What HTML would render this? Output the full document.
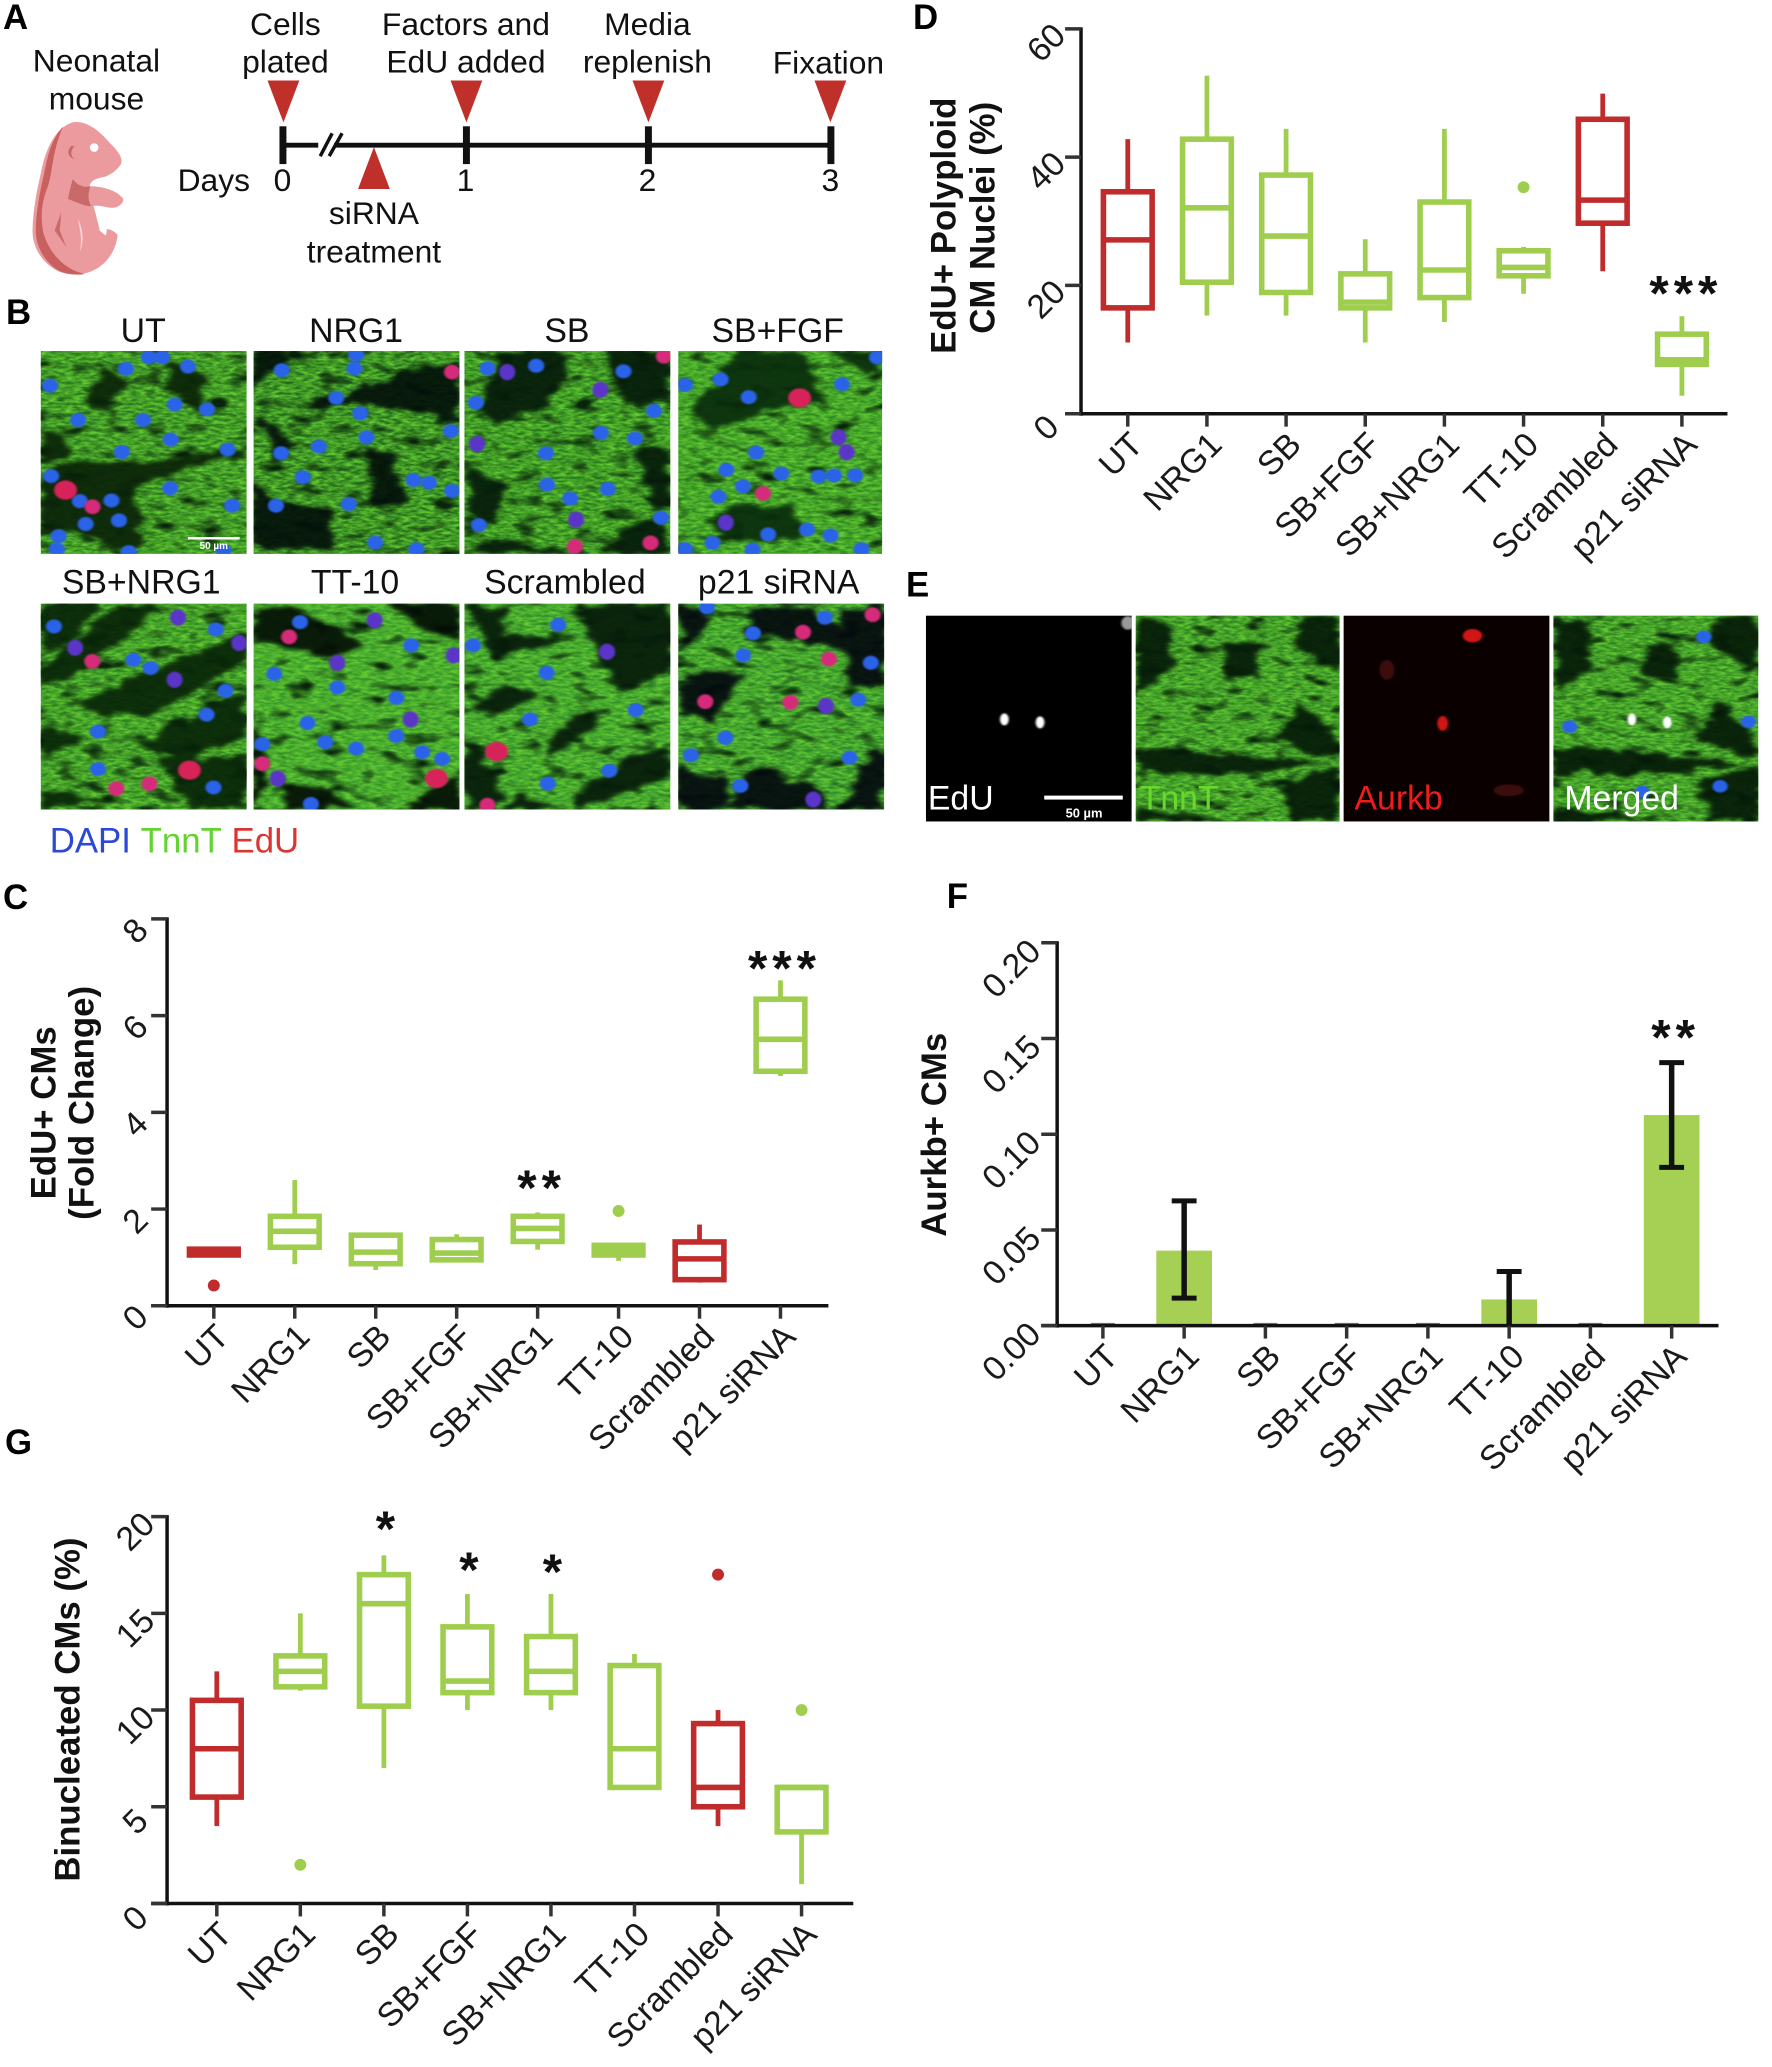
<!DOCTYPE html>
<html lang="en">
<head>
<meta charset="utf-8">
<title>EdU and Aurkb cardiomyocyte proliferation figure</title>
<style>
html,body{margin:0;padding:0;background:#fff;}
#figure{display:block;width:1772px;height:2067px;font-family:"Liberation Sans",Arial,sans-serif;}
.tl{font-size:32px;fill:#111;text-anchor:middle;}
.hd{font-size:34px;fill:#111;text-anchor:middle;}
.letter{font-size:35px;font-weight:bold;fill:#000;}
.title{font-size:35px;font-weight:bold;fill:#111;text-anchor:middle;}
</style>
</head>
<body>
<svg id="figure" xmlns="http://www.w3.org/2000/svg" width="1772" height="2067" viewBox="0 0 1772 2067">
<defs>
<filter id="fiber" x="0" y="0" width="100%" height="100%" color-interpolation-filters="sRGB">
<feTurbulence type="fractalNoise" baseFrequency="0.07 0.14" numOctaves="3" seed="7"/>
<feColorMatrix type="matrix" values="0 0 0 0 0.40  0 0 0 0 0.80  0 0 0 0 0.20  1.9 0 0 0 -0.5"/>
</filter>
<filter id="patch" x="0" y="0" width="100%" height="100%" color-interpolation-filters="sRGB">
<feTurbulence type="fractalNoise" baseFrequency="0.02 0.03" numOctaves="2" seed="23"/>
<feColorMatrix type="matrix" values="0 0 0 0 0.03  0 0 0 0 0.14  0 0 0 0 0.04  3.5 0 0 0 -1.9"/>
</filter>
<filter id="soft" x="-10%" y="-10%" width="120%" height="120%" color-interpolation-filters="sRGB">
<feTurbulence type="fractalNoise" baseFrequency="0.025" numOctaves="3" seed="5" result="n"/>
<feDisplacementMap in="SourceGraphic" in2="n" scale="45" xChannelSelector="R" yChannelSelector="G"/>
<feGaussianBlur stdDeviation="5"/>
</filter>
<filter id="soft2" x="-40%" y="-40%" width="180%" height="180%"><feGaussianBlur stdDeviation="2"/></filter>
</defs>
<rect width="1772" height="2067" fill="#fff"/>
<g transform="scale(0.9945)">

<text class="letter" x="3" y="29">A</text>
<text class="letter" x="6" y="326">B</text>
<text class="letter" x="3" y="914">C</text>
<text class="letter" x="918" y="29">D</text>
<text class="letter" x="911" y="600">E</text>
<text class="letter" x="952" y="913">F</text>
<text class="letter" x="5" y="1462">G</text>

<g>
<text class="tl" x="97" y="72">Neonatal</text>
<text class="tl" x="97" y="110">mouse</text>
<svg x="0" y="100" width="150" height="190" viewBox="0 0 450 570">
<path d="M225 68C265 66 300 95 330 130C355 155 372 175 365 195C352 215 335 225 320 232C295 238 275 240 270 262C300 262 350 270 372 300C372 318 350 332 325 325C305 322 290 318 282 322C290 345 295 375 302 395C320 385 345 395 355 410C350 445 335 480 300 505C265 530 215 535 175 518C130 495 98 450 98 395C100 330 110 280 125 215C135 160 165 80 225 68Z" fill="#eb9a9e"/>
<path d="M190 82C160 115 145 160 135 215C120 280 108 340 108 395C108 450 140 495 180 518C210 530 240 530 255 526C200 515 150 470 130 400C122 350 125 310 145 260C160 215 155 165 190 82Z" fill="#c8605f"/>
<path d="M220 240C235 262 255 266 272 262C268 280 262 300 275 322C255 322 230 310 205 300C210 275 215 255 220 240Z" fill="#c96a6a"/>
<ellipse cx="284" cy="145" rx="13" ry="13" fill="#fff"/>
<path d="M215 140C200 155 205 175 225 180C212 170 212 155 225 140Z" fill="#c96a6a"/>
<path d="M185 340L165 395L200 445L180 395Z" fill="#c96a6a"/>
<path d="M235 360C250 390 255 430 240 460C250 420 240 390 235 360Z" fill="#fff" opacity=".6"/>
<path d="M300 360C325 380 325 400 318 410L300 395Z" fill="#fff"/>
</svg>
<line x1="284" y1="146" x2="835" y2="146" stroke="#111" stroke-width="5"/>
<rect x="320" y="138" width="16" height="16" fill="#fff"/>
<line x1="322" y1="157" x2="334" y2="134" stroke="#111" stroke-width="3.5"/>
<line x1="331" y1="157" x2="344" y2="134" stroke="#111" stroke-width="3.5"/>
<rect x="281" y="127" width="7" height="38" fill="#111"/>
<rect x="465.500" y="127" width="7" height="38" fill="#111"/>
<rect x="648.500" y="127" width="7" height="38" fill="#111"/>
<rect x="832" y="127" width="7" height="38" fill="#111"/>
<polygon points="269,81 301,81 285,123" fill="#c0302b"/>
<polygon points="453,81 485,81 469,123" fill="#c0302b"/>
<polygon points="636,81 668,81 652,123" fill="#c0302b"/>
<polygon points="819,81 851,81 835,123" fill="#c0302b"/>
<polygon points="360,190 392,190 376,148" fill="#c0302b"/>
<text class="tl" x="287" y="35">Cells</text>
<text class="tl" x="287" y="73">plated</text>
<text class="tl" x="468.500" y="35">Factors and</text>
<text class="tl" x="468.500" y="73">EdU added</text>
<text class="tl" x="651" y="35">Media</text>
<text class="tl" x="651" y="73">replenish</text>
<text class="tl" x="833" y="74">Fixation</text>
<text class="tl" x="215" y="192">Days</text>
<text class="tl" x="284" y="192">0</text>
<text class="tl" x="468" y="192">1</text>
<text class="tl" x="651" y="192">2</text>
<text class="tl" x="835" y="192">3</text>
<text class="tl" x="376" y="225">siRNA</text>
<text class="tl" x="376" y="264">treatment</text>
</g>

<g>
<text class="hd" x="144" y="344">UT</text>
<text class="hd" x="358" y="344">NRG1</text>
<text class="hd" x="570" y="344">SB</text>
<text class="hd" x="782" y="344">SB+FGF</text>
<text class="hd" x="142" y="597">SB+NRG1</text>
<text class="hd" x="357" y="597">TT-10</text>
<text class="hd" x="568" y="597">Scrambled</text>
<text class="hd" x="783" y="597">p21 siRNA</text>
</g>
<g id="micrographs"></g>
<g>
<rect x="189" y="540" width="52" height="2.500" fill="#fff"/>
<text x="215" y="552" font-size="10" font-weight="bold" fill="#fff" text-anchor="middle">50 µm</text>
<text x="50" y="857" font-size="35"><tspan fill="#2b49d6">DAPI</tspan> <tspan fill="#63d32f">TnnT</tspan> <tspan fill="#dc3531">EdU</tspan></text>
</g>
<g>
<text x="933" y="814" font-size="34" fill="#fff">EdU</text>
<text x="1146" y="814" font-size="34" fill="#68d92c">TnnT</text>
<text x="1362" y="814" font-size="34" fill="#ee1c1c">Aurkb</text>
<text x="1573" y="814" font-size="34" fill="#fff">Merged</text>
<rect x="1050" y="800" width="79" height="4" fill="#fff"/>
<text x="1090" y="822" font-size="13" font-weight="bold" fill="#fff" text-anchor="middle">50 µm</text>
</g>

<g id="chartC">
<text class="title" transform="translate(56,1119) rotate(-90)">EdU+ CMs</text>
<text class="title" transform="translate(94,1109) rotate(-90)">(Fold Change)</text>
</g>
<g id="chartD">
<text class="title" transform="translate(961,227) rotate(-90)">EdU+ Polyploid</text>
<text class="title" transform="translate(1000,219) rotate(-90)">CM Nuclei (%)</text>
</g>
<g id="chartF">
<text class="title" transform="translate(951,1141) rotate(-90)">Aurkb+ CMs</text>
</g>
<g id="chartG">
<text class="title" transform="translate(80,1719) rotate(-90)">Binucleated CMs (%)</text>
</g>
</g>
</svg>

<script>
/* ---------- chart data ---------- */
const categories = ['UT','NRG1','SB','SB+FGF','SB+NRG1','TT-10','Scrambled','p21 siRNA'];
const controlGroups = ['UT','Scrambled'];

const cTicks = [0,2,4,6,8];
const cWhiskerHigh = [1.17,2.6,1.46,1.48,1.93,1.25,1.68,6.73];
const cQ3 = [1.17,1.85,1.46,1.37,1.85,1.25,1.32,6.34];
const cMedian = [1.1,1.54,1.11,1.09,1.6,1.15,0.97,5.51];
const cQ1 = [1.05,1.21,0.87,0.95,1.33,1.05,0.54,4.85];
const cWhiskerLow = [1.05,0.86,0.74,0.95,1.16,0.93,0.48,4.75];
const cOutliers = [0.42,null,null,null,null,1.96,null,null];
const cStars = ['','','','','**','','','***'];
const cStarLevels = [0,0,0,0,2.54,0,0,7.08];

const dTicks = [0,20,40,60];
const dWhiskerHigh = [42.8,52.7,44.4,27.2,44.4,26,49.9,15.2];
const dQ3 = [34.6,42.8,37.2,21.8,33,25.4,45.9,12.4];
const dMedian = [27.1,32.1,27.7,17.4,22.4,22.8,33.3,8.4];
const dQ1 = [16.5,20.5,18.9,16.5,18.1,21.5,29.7,7.7];
const dWhiskerLow = [11.1,15.3,15.3,11.1,14.3,18.7,22.2,2.8];
const dOutliers = [null,null,null,null,null,35.3,null,null];
const dStars = ['','','','','','','','***'];
const dStarLevels = [0,0,0,0,0,0,0,19.5];

const fTicks = [0,0.05,0.10,0.15,0.20];
const fTickLabels = ['0.00','0.05','0.10','0.15','0.20'];
const fMeans = [0,0.0392,0,0,0,0.0137,0,0.11];
const fErrHigh = [0,0.0652,0,0,0,0.0283,0,0.1374];
const fErrLow = [0,0.0144,0,0,0,0,0,0.0827];
const fStars = ['','','','','','','','**'];
const fStarLevels = [0,0,0,0,0,0,0,0.153];

const gTicks = [0,5,10,15,20];
const gWhiskerHigh = [12,15,18,16,16,12.9,10,6];
const gQ3 = [10.5,12.8,17,14.3,13.8,12.3,9.3,6];
const gMedian = [8,12,15.5,11.5,12,8,6,6];
const gQ1 = [5.5,11.2,10.2,10.9,10.9,6,5,3.7];
const gWhiskerLow = [4,11,7,10,10,6,4,1];
const gOutliers = [null,2,null,null,null,null,17,10];
const gStars = ['','','*','*','*','','',''];
const gStarLevels = [0,0,19.6,17.5,17.4,0,0,0];

/* ---------- helpers ---------- */
const SVGNS = 'http://www.w3.org/2000/svg';
const RED = '#c02b2b', GREEN = '#9fce4e', INK = '#111';
function make(tag, attrs, parent){
  const n = document.createElementNS(SVGNS, tag);
  for (const k in attrs) n.setAttribute(k, attrs[k]);
  parent.appendChild(n);
  return n;
}
function seriesColor(i){ return controlGroups.includes(categories[i]) ? RED : GREEN; }

function drawAxes(root, g, tickValues, tickLabels){
  const yAxis = make('line',{x1:g.x0,x2:g.x0,y1:g.yTop-1.5,y2:g.y0+2,stroke:INK,'stroke-width':3.5},root);
  
  
  const xAxis = make('line',{x1:g.x0-16,x2:g.xEnd,y1:g.y0,y2:g.y0,stroke:INK,'stroke-width':3.5},root);
  
  
  tickValues.forEach(function(v,i){
    const y = g.y(v);
    const tick = make('line',{x1:g.x0-16,x2:g.x0,y1:y,y2:y,stroke:'#333','stroke-width':3.5},root);
    
    
    const lx = g.x0 - g.ylx, ly = y + g.yly;
    const label = make('text',{transform:'translate('+lx+','+ly+') rotate(-45)','text-anchor':'middle','font-size':g.fs,fill:'#1a1a1a'},root);
    label.textContent = tickLabels ? tickLabels[i] : String(v);
    
    
  });
  categories.forEach(function(c,i){
    const x = g.x(i);
    const tick = make('line',{x1:x,x2:x,y1:g.y0,y2:g.y0+13,stroke:'#333','stroke-width':3.5},root);
    
    
    const label = make('text',{transform:'translate('+(x+17)+','+(g.y0+33)+') rotate(-45)','text-anchor':'end','font-size':g.fs,fill:'#1a1a1a'},root);
    label.textContent = c;
    
    
  });
}
function drawStars(root, g, stars, levels){
  stars.forEach(function(s,i){
    if (!s) return;
    const t = make('text',{x:g.x(i)+4,y:g.y(levels[i])+22,'text-anchor':'middle','font-size':50,'font-weight':'bold','letter-spacing':5,fill:'#111'},root);
    t.textContent = s;
    
    
  });
}
function drawBoxes(root, g, hi, q3, med, q1, lo, out){
  const hw = 24.5;
  categories.forEach(function(c,i){
    const col = seriesColor(i), x = g.x(i);
    if (hi[i] > q3[i]) {
      const wu = make('line',{x1:x,x2:x,y1:g.y(hi[i]),y2:g.y(q3[i]),stroke:col,'stroke-width':4.8},root);
      
      
    }
    if (lo[i] < q1[i]) {
      const wl = make('line',{x1:x,x2:x,y1:g.y(q1[i]),y2:g.y(lo[i]),stroke:col,'stroke-width':4.8},root);
      
      
    }
    const box = make('rect',{x:x-hw,y:g.y(q3[i]),width:hw*2,height:g.y(q1[i])-g.y(q3[i]),fill:'none',stroke:col,'stroke-width':5.6},root);
    
    
    const m = make('line',{x1:x-hw,x2:x+hw,y1:g.y(med[i]),y2:g.y(med[i]),stroke:col,'stroke-width':5.6},root);
    
    
    if (out[i] !== null) {
      const o = make('circle',{cx:x,cy:g.y(out[i]),r:6,fill:col},root);
      
      
    }
  });
}
function axisFns(g){
  g.x = function(i){ return g.xFirst + i*g.step; };
  g.y = function(v){ return g.y0 - (v/g.max)*(g.y0-g.yTop); };
  return g;
}

/* ---------- box charts ---------- */
const geoC = axisFns({x0:168,xEnd:833,y0:1313,yTop:924,max:8,xFirst:215,step:81.4,ylx:24,yly:20,fs:34});
const rootC = document.getElementById('chartC');
drawAxes(rootC, geoC, cTicks);
drawBoxes(rootC, geoC, cWhiskerHigh, cQ3, cMedian, cQ1, cWhiskerLow, cOutliers);
drawStars(rootC, geoC, cStars, cStarLevels);

const geoD = axisFns({x0:1087,xEnd:1737,y0:416,yTop:29,max:60,xFirst:1134,step:79.6,ylx:27,yly:22,fs:34});
const rootD = document.getElementById('chartD');
drawAxes(rootD, geoD, dTicks);
drawBoxes(rootD, geoD, dWhiskerHigh, dQ3, dMedian, dQ1, dWhiskerLow, dOutliers);
drawStars(rootD, geoD, dStars, dStarLevels);

const geoG = axisFns({x0:168,xEnd:858,y0:1914,yTop:1525,max:20,xFirst:218,step:84,ylx:24,yly:23,fs:34});
const rootG = document.getElementById('chartG');
drawAxes(rootG, geoG, gTicks);
drawBoxes(rootG, geoG, gWhiskerHigh, gQ3, gMedian, gQ1, gWhiskerLow, gOutliers);
drawStars(rootG, geoG, gStars, gStarLevels);

/* ---------- bar chart ---------- */
const geoF = axisFns({x0:1063,xEnd:1728,y0:1333,yTop:948,max:0.20,xFirst:1109,step:81.7,ylx:38,yly:34,fs:34});
const rootF = document.getElementById('chartF');
categories.forEach(function(c,i){
  const x = geoF.x(i);
  if (fMeans[i] > 0) {
    const b = make('rect',{x:x-28,y:geoF.y(fMeans[i]),width:56,height:geoF.y0-geoF.y(fMeans[i]),fill:'#a5d054'},rootF);
    
    
  } else {
    const z = make('line',{x1:x-12,x2:x+12,y1:geoF.y0-2,y2:geoF.y0-2,stroke:'#777','stroke-width':1.5},rootF);
    
    
  }
});
drawAxes(rootF, geoF, fTicks, fTickLabels);
categories.forEach(function(c,i){
  if (fMeans[i] <= 0) return;
  const x = geoF.x(i);
  const v = make('line',{x1:x,x2:x,y1:geoF.y(fErrHigh[i]),y2:geoF.y(fErrLow[i]),stroke:INK,'stroke-width':5.5},rootF);
  
  
  const capU = make('line',{x1:x-12.5,x2:x+12.5,y1:geoF.y(fErrHigh[i]),y2:geoF.y(fErrHigh[i]),stroke:INK,'stroke-width':5},rootF);
  
  
  if (fErrLow[i] > 0) {
    const capL = make('line',{x1:x-12.5,x2:x+12.5,y1:geoF.y(fErrLow[i]),y2:geoF.y(fErrLow[i]),stroke:INK,'stroke-width':5},rootF);
    
    
  }
});
drawStars(rootF, geoF, fStars, fStarLevels);

/* ---------- micrograph approximations ---------- */
const micro = document.getElementById('micrographs');
const BLUE='#2c62e8', LIGHTBLUE='#3f86ee', PURPLE='#5a35c8', PINK='#d62a7a', RED2='#d8245a';
const panels = [
 {r:[41,353,207,204],v:[72,138,358,550],base:'#2a7a1e',dark:'#0a2208',
  polys:['128,437 272,437 428,397 428,424 313,460 232,504 255,665 174,673 140,620 72,640 72,480','145,264 191,183 220,219 186,281 209,335 168,299','301,157 359,219 347,308 290,246','70,344 116,362 122,424 70,442'],
  blue:'88,232 220,186 260,155 283,155 328,180 305,283 361,296 137,325 250,325 298,378 397,405 213,412 90,477 297,510 405,557 140,545 195,543 150,607 208,597 103,640 100,675 225,683 390,680',
  pink:'162,560',red:'115,515'},
 {r:[255,353,207,204],v:[441,138,359,550],base:'#24701c',dark:'#03100a',
  polys:['438,139 513,139 467,201 438,246','700,200 800,170 800,330 650,280 520,290','438,486 485,549 577,567 589,673 438,673','444,299 513,388 485,442 467,388','640,400 690,420 700,550 650,560'],
  blue:'490,190 617,185 620,148 585,265 627,307 638,372 555,397 489,415 527,480 720,488 747,495 787,517 480,557 607,553 653,657 725,675 785,355',
  pink:'787,195',red:''},
 {r:[467,353,207,204],v:[810,138,356,550],base:'#277a1d',dark:'#051a0a',
  polys:['870,140 1000,140 960,280 880,330 830,300','1040,140 1166,140 1160,280 1100,300','1100,400 1166,400 1166,560 1090,620 1040,688 1166,688','820,450 880,500 870,600 820,620','850,640 1000,688 810,688'],
  blue:'934,178 1085,193 830,278 1138,300 1046,360 1105,375 951,415 953,500 993,538 1058,512 1150,590 835,610 850,185',
  purple:'884,195 1045,243 832,390 1003,595',pink:'1001,668 1132,658 1155,152',red:''},
 {r:[682,353,205,204],v:[1180,138,356,550],base:'#2f8a22',dark:'#092c0c',
  polys:['1280,140 1400,140 1440,280 1330,300 1240,360 1210,300','1440,140 1536,140 1536,200 1490,190','1270,550 1380,560 1400,640 1290,660 1230,600'],
  blue:'1254,215 1192,230 1303,263 1466,228 1527,155 1316,413 1264,460 1360,470 1425,478 1452,475 1489,475 1293,505 1250,533 1405,622 1337,635 1446,638 1240,658 1310,677 1500,675 1192,675',
  purple:'1263,603 1460,372 1474,412',pink:'1328,524',red:'1392,265'},
 {r:[41,607,207,207],v:[70,820,360,560],base:'#2e8422',dark:'#082408',
  polys:['70,820 180,820 110,940 70,960','200,820 290,830 150,1000 70,1040 70,1000','340,950 430,900 430,980 250,1130 120,1100 240,1020','380,1080 430,1060 430,1180 320,1250 240,1200','70,1150 150,1180 70,1240','280,1240 430,1240 430,1380 330,1380','70,1330 200,1350 70,1378'],
  blue:'93,882 376,890 232,973 262,995 393,1057 360,1122 170,1168 170,1270 372,1320',
  purple:'130,940 310,858 417,927 304,1027',pink:'160,977 260,1310 202,1323',red:'330,1273'},
 {r:[255,607,207,207],v:[441,820,359,557],base:'#36962a',dark:'#040f06',
  polys:['441,830 500,820 640,930 560,970 441,920','680,820 800,820 800,920 720,880','441,1100 470,1300 441,1378','490,1300 560,1310 620,1378 500,1378','770,1300 800,1280 800,1378 700,1378'],
  blue:'522,870 716,933 477,1010 587,1047 690,1075 535,1143 690,1178 566,1195 620,1212 456,1200 735,1222 770,1240 541,1362',
  purple:'652,865 715,1133 587,980 790,960 483,1293',pink:'503,910 456,1253',red:'760,1293'},
 {r:[467,607,207,207],v:[810,820,358,557],base:'#32902a',dark:'#061a0a',
  polys:['810,820 900,830 870,900 970,920 860,970 830,860','1000,820 1168,820 1168,1000 1080,1060 1040,940','880,1040 950,1060 870,1120 830,1100','1000,1120 1060,1130 950,1240 960,1180','810,1180 880,1300 870,1378 810,1378','1100,1230 1168,1200 1168,1280 1000,1378 1000,1340','900,1340 1000,1378 880,1378'],
  blue:'973,877 825,933 953,1007 924,1133 1108,1108 1062,1272 955,1307',
  purple:'1058,950',pink:'850,1365',red:'866,1220'},
 {r:[682,607,207,207],v:[1180,820,358,557],base:'#2e8a2a',dark:'#04080f',
  polys:['1180,820 1240,860 1200,940 1180,950','1320,820 1420,830 1500,930 1420,930 1300,900','1460,840 1538,820 1538,1040 1480,1050','1200,1000 1290,1010 1240,1150 1180,1100','1300,1260 1400,1300 1450,1378 1260,1378','1180,1260 1260,1300 1260,1378 1180,1378','1500,1260 1538,1200 1538,1378 1460,1378'],
  blue:'1230,830 1435,858 1310,900 1293,960 1515,980 1493,1080 1262,1183 1478,1237 1202,1230 1288,1313',
  purple:'1437,1097 1415,1350',pink:'1397,897 1442,970 1227,1085 1375,1087 1518,850',red:''},
 {r:[931,619,207,207],v:[10,48,375,615],base:'#000000',dark:'#000',polys:[],blank:true,
  white:'153,358 218,367',gray:'378,70'},
 {r:[1142,619,205,207],v:[397,48,375,615],base:'#2e8422',dark:'#051a08',
  polys:['397,60 460,60 470,200 400,280','560,130 630,130 620,240 560,230','700,50 772,50 772,220 680,130','397,440 560,460 760,490 600,520 397,520','700,300 772,420 772,480 660,420','397,620 460,640 620,663 397,663','660,540 772,500 772,663 680,663']},
 {r:[1351,619,207,207],v:[780,48,380,615],base:'#0a0000',dark:'#000',polys:[],blank:true,
  spots:'1018,108,18,20 963,370,10,22 1085,570,28,18 860,210,14,30'},
 {r:[1562,619,206,207],v:[1167,48,376,615],base:'#2e8422',dark:'#051a08',
  polys:['1167,60 1230,60 1240,200 1170,280','1330,130 1400,130 1390,240 1330,230','1470,50 1543,50 1543,220 1450,130','1167,440 1330,460 1530,490 1370,520 1167,520','1470,300 1543,420 1543,480 1430,420','1167,620 1230,640 1390,663 1167,663','1430,540 1543,500 1543,663 1450,663'],
  blue:'1197,380 1443,112 1525,365 1473,558 1330,575',white:'1311,358 1376,367'}
];
function parsePts(s){ return s ? s.split(' ').map(function(p){ return p.split(',').map(Number); }) : []; }
function drawNuclei(svg, pts, col, rx, ry){
  parsePts(pts).forEach(function(p){
    const e = make('ellipse',{cx:p[0],cy:p[1],rx:rx,ry:ry,fill:col,filter:'url(#soft2)'},svg);
    
    
  });
}
panels.forEach(function(p){
  const svg = make('svg',{x:p.r[0],y:p.r[1],width:p.r[2],height:p.r[3],viewBox:p.v.join(' '),preserveAspectRatio:'none'},micro);
  
  
  make('rect',{x:p.v[0],y:p.v[1],width:p.v[2],height:p.v[3],fill:p.base},svg);
  if (!p.blank) {
    make('rect',{x:p.v[0],y:p.v[1],width:p.v[2],height:p.v[3],filter:'url(#fiber)'},svg);
    make('rect',{x:p.v[0],y:p.v[1],width:p.v[2],height:p.v[3],filter:'url(#patch)'},svg);
    const darkGroup = make('g',{filter:'url(#soft)',opacity:.92},svg);
    p.polys.forEach(function(pts){
      make('polygon',{points:pts,fill:p.dark},darkGroup);
    });
  }
  drawNuclei(svg,p.blue,BLUE,14,19);
  drawNuclei(svg,p.purple,PURPLE,14,22);
  drawNuclei(svg,p.pink,PINK,14,20);
  drawNuclei(svg,p.red,RED2,20,26);
  drawNuclei(svg,p.white,'#ffffff',8,18);
  drawNuclei(svg,p.gray,'#9a9a9a',12,20);
  if (p.spots) p.spots.split(' ').forEach(function(s,i){
    const a = s.split(',').map(Number);
    make('ellipse',{cx:a[0],cy:a[1],rx:a[2],ry:a[3],fill:i<2?'#d01818':'#3a0808',filter:'url(#soft2)'},svg);
  });
});
</script>
</body>
</html>
